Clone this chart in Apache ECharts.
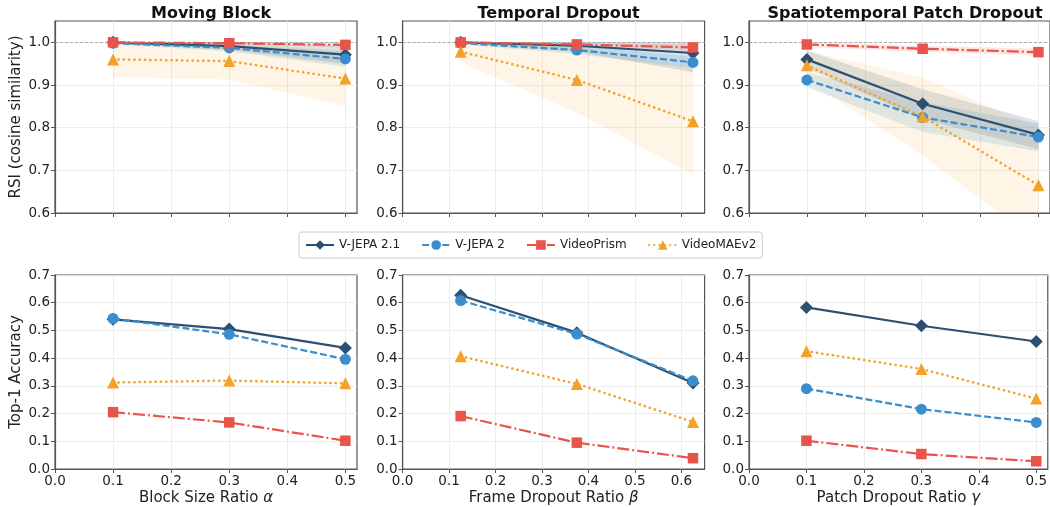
<!DOCTYPE html>
<html>
<head>
<meta charset="utf-8">
<script src="https://cdn.jsdelivr.net/npm/echarts@6/dist/echarts.min.js"></script>
<style>html,body{margin:0;padding:0;background:#fff}#c{width:1050px;height:507px}</style>
</head>
<body>
<div id="c"></div>
<script>
// ---------------- data ----------------
const models = ['V-JEPA 2.1', 'V-JEPA 2', 'VideoPrism', 'VideoMAEv2'];
const panelTitles = ['Moving Block', 'Temporal Dropout', 'Spatiotemporal Patch Dropout'];
const xMoving = [0.1, 0.3, 0.5];
const xTemporal = [0.125, 0.375, 0.625];
const xPatch = [0.1, 0.3, 0.5];
const xTicksMoving = [0.0, 0.1, 0.2, 0.3, 0.4, 0.5];
const xTicksTemporal = [0.0, 0.1, 0.2, 0.3, 0.4, 0.5, 0.6];
const xTicksPatch = [0.0, 0.1, 0.2, 0.3, 0.4, 0.5];
const rsiTicks = [0.6, 0.7, 0.8, 0.9, 1.0];
const accTicks = [0.0, 0.1, 0.2, 0.3, 0.4, 0.5, 0.6, 0.7];

// RSI means (Moving, Temporal, Patch)
const rsiVJ21 = [[1.000, 0.991, 0.971], [1.000, 0.992, 0.975], [0.960, 0.856, 0.783]];
const rsiVJ2  = [[0.998, 0.987, 0.961], [0.998, 0.982, 0.953], [0.912, 0.824, 0.778]];
const rsiVP   = [[1.000, 0.998, 0.994], [1.000, 0.995, 0.988], [0.995, 0.985, 0.977]];
const rsiMAE  = [[0.960, 0.956, 0.915], [0.978, 0.912, 0.815], [0.946, 0.826, 0.665]];
// RSI band lower / upper
const loVJ21 = [[0.997, 0.982, 0.949], [0.997, 0.978, 0.930], [0.940, 0.820, 0.750]];
const hiVJ21 = [[1.000, 1.000, 0.993], [1.000, 1.000, 1.000], [0.980, 0.890, 0.815]];
const loVJ2  = [[0.995, 0.979, 0.943], [0.995, 0.972, 0.940], [0.895, 0.790, 0.745]];
const hiVJ2  = [[1.000, 0.995, 0.979], [1.000, 0.992, 0.966], [0.930, 0.860, 0.810]];
const loVP   = [[0.999, 0.995, 0.988], [0.999, 0.991, 0.980], [0.989, 0.978, 0.969]];
const hiVP   = [[1.000, 1.000, 1.000], [1.000, 0.999, 0.996], [1.000, 0.992, 0.985]];
const loMAE  = [[0.918, 0.913, 0.850], [0.953, 0.835, 0.690], [0.912, 0.735, 0.530]];
const hiMAE  = [[1.000, 0.999, 0.980], [1.000, 0.989, 0.940], [0.980, 0.917, 0.800]];
// Top-1 accuracy
const accVJ21 = [[0.540, 0.505, 0.437], [0.627, 0.492, 0.310], [0.583, 0.517, 0.460]];
const accVJ2  = [[0.543, 0.486, 0.396], [0.608, 0.487, 0.318], [0.290, 0.216, 0.168]];
const accVP   = [[0.205, 0.168, 0.102], [0.191, 0.095, 0.039], [0.102, 0.054, 0.028]];
const accMAE  = [[0.312, 0.319, 0.309], [0.407, 0.307, 0.170], [0.425, 0.361, 0.254]];

// ---------------- styles ----------------
const colors = ['#2b5072', '#3b8ecb', '#e8534a', '#f4a226'];
const bandColors = ['rgba(43,80,114,0.16)', 'rgba(59,142,203,0.16)', 'rgba(232,83,74,0.14)', 'rgba(244,162,38,0.11)'];
const symbols = ['diamond', 'circle', 'rect', 'triangle'];
const symSizes = [13, 11, 10.5, 12];
const lineTypes = ['solid', [7, 3], [12, 3, 2, 3], [0.3, 5]];
const lineCaps = ['butt', 'butt', 'butt', 'round'];
const lineWidths = [2.2, 2.2, 2.2, 2.5];
const FONT = 'DejaVu Sans';

const xs = [xMoving, xTemporal, xPatch];
const xTicks = [xTicksMoving, xTicksTemporal, xTicksPatch];
const xMax = [0.52, 0.65, 0.52];
const xNames = ['Block Size Ratio {i|α}', 'Frame Dropout Ratio {i|β}', 'Patch Dropout Ratio {i|γ}'];
const lefts = [55, 402.6, 749];
const W = 302;
const rsi = [rsiVJ21, rsiVJ2, rsiVP, rsiMAE];
const lo = [loVJ21, loVJ2, loVP, loMAE];
const hi = [hiVJ21, hiVJ2, hiVP, hiMAE];
const acc = [accVJ21, accVJ2, accVP, accMAE];

const grids = [], xAxes = [], yAxes = [], series = [], titles = [];
const axisLineStyle = { color: '#555', width: 1.2 };
const splitStyle = { color: '#e9e9e9', width: 0.8 };
const TICKFS = 13.5;

for (let row = 0; row < 2; row++) {
  for (let p = 0; p < 3; p++) {
    const idx = row * 3 + p;
    grids.push({ left: lefts[p], width: W, top: row === 0 ? 21 : 275, height: row === 0 ? 192 : 194,
      show: true, borderColor: '#555', borderWidth: 1.2, backgroundColor: 'transparent' });
    xAxes.push({
      type: 'value', gridIndex: idx, min: 0, max: xMax[p], interval: 0.1,
      axisLine: { show: true, onZero: false, lineStyle: axisLineStyle },
      axisTick: { show: true, length: 4, lineStyle: { color: '#555' }, customValues: xTicks[p] },
      axisLabel: { show: row === 1, customValues: xTicks[p], formatter: v => v.toFixed(1),
        color: '#222', fontFamily: FONT, fontSize: TICKFS, margin: 5 },
      splitLine: { show: true, lineStyle: splitStyle },
      name: row === 1 ? xNames[p] : '', nameLocation: 'middle', nameGap: 22,
      nameTextStyle: { color: '#222', fontFamily: FONT, fontSize: 15,
        rich: { i: { fontStyle: 'italic', fontFamily: FONT, fontSize: 15, color: '#222' } } }
    });
    const ticks = row === 0 ? rsiTicks : accTicks;
    yAxes.push({
      type: 'value', gridIndex: idx, min: row === 0 ? 0.6 : 0, max: row === 0 ? 1.05 : 0.7, interval: 0.1,
      axisLine: { show: true, lineStyle: axisLineStyle },
      axisTick: { show: true, length: 4, lineStyle: { color: '#555' }, customValues: ticks },
      axisLabel: { customValues: ticks, formatter: v => v.toFixed(1), color: '#222', fontFamily: FONT, fontSize: TICKFS, margin: 5 },
      splitLine: { show: true, lineStyle: splitStyle },
      name: p === 0 ? (row === 0 ? 'RSI (cosine similarity)' : 'Top-1 Accuracy') : '',
      nameLocation: 'middle', nameGap: 31,
      nameTextStyle: { color: '#222', fontFamily: FONT, fontSize: 15 }
    });
    if (row === 0) {
      titles.push({ text: panelTitles[p], left: lefts[p] + W / 2, top: 1, textAlign: 'center',
        textStyle: { fontFamily: FONT, fontSize: 16, fontWeight: 'bold', color: '#111' } });
      // bands
      for (let m = 0; m < 4; m++) {
        const xv = xs[p], L = lo[m][p], U = hi[m][p];
        series.push({
          type: 'custom', name: 'band' + m, xAxisIndex: idx, yAxisIndex: idx, silent: true, clip: true, z: 1,
          data: [[xv[0], L[0]]],
          renderItem: (params, api) => {
            const up = xv.map((x, k) => api.coord([x, U[k]]));
            const dn = xv.map((x, k) => api.coord([x, L[k]])).reverse();
            return { type: 'polygon', shape: { points: up.concat(dn) }, style: { fill: bandColors[m] } };
          }
        });
      }
    }
    const vals = row === 0 ? rsi : acc;
    for (let m = 0; m < 4; m++) {
      const s = {
        type: 'line', name: models[m], xAxisIndex: idx, yAxisIndex: idx, z: 3 + m,
        data: xs[p].map((x, k) => [x, vals[m][p][k]]),
        symbol: symbols[m], symbolSize: symSizes[m], showSymbol: true, animation: false,
        lineStyle: { color: colors[m], width: lineWidths[m], type: lineTypes[m], cap: lineCaps[m] },
        itemStyle: { color: colors[m], opacity: 1 }
      };
      if (row === 0 && m === 0) {
        s.markLine = { silent: true, symbol: 'none', label: { show: false },
          lineStyle: { color: '#999', type: [3, 2], width: 0.8 }, data: [{ yAxis: 1.0 }] };
      }
      series.push(s);
    }
  }
}

const chart = echarts.init(document.getElementById('c'), null, { renderer: 'canvas' });
chart.setOption({
  animation: false,
  backgroundColor: '#fff',
  title: titles,
  legend: {
    data: models, left: 299, top: 232, orient: 'horizontal',
    itemWidth: 28, itemHeight: 12, itemGap: 21,
    padding: [7, 6], borderColor: '#ccc', borderWidth: 1, borderRadius: 3,
    textStyle: { fontFamily: FONT, fontSize: 12, color: '#222' }
  },
  grid: grids, xAxis: xAxes, yAxis: yAxes, series: series
});
</script>
</body>
</html>
